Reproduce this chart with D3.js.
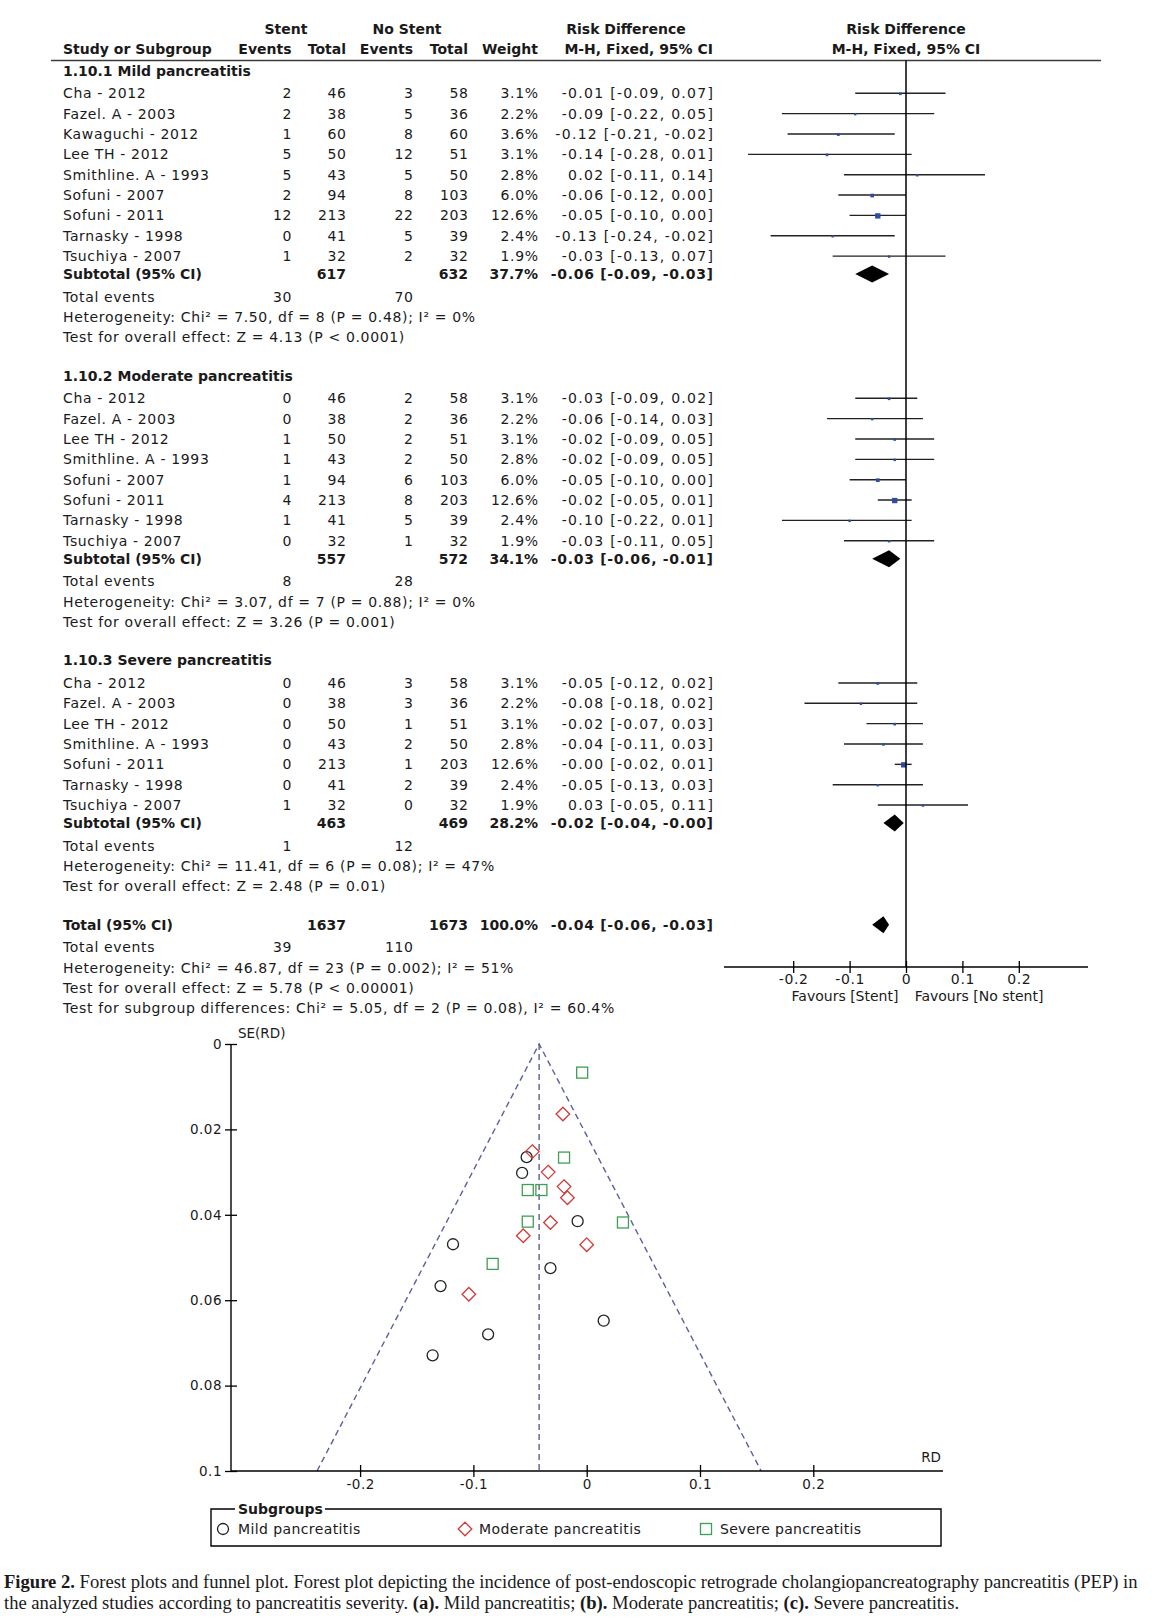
<!DOCTYPE html>
<html><head><meta charset="utf-8">
<script src="https://cdn.jsdelivr.net/npm/d3@7"></script>
<style>
body{margin:0;background:#fff}
svg{display:block}
text{font-family:"DejaVu Sans",sans-serif;fill:#1a1a1a}
</style>
</head><body>
<svg id="c" width="1157" height="1622"></svg>
<script>
// ---------------- DATA ----------------
const groupTitles = ["1.10.1 Mild pancreatitis", "1.10.2 Moderate pancreatitis", "1.10.3 Severe pancreatitis"];

const mildNames = ["Cha - 2012","Fazel. A - 2003","Kawaguchi - 2012","Lee TH - 2012","Smithline. A - 1993","Sofuni - 2007","Sofuni - 2011","Tarnasky - 1998","Tsuchiya - 2007"];
const mildStentEvents = [2,2,1,5,5,2,12,0,1];
const mildStentTotal  = [46,38,60,50,43,94,213,41,32];
const mildNoEvents    = [3,5,8,12,5,8,22,5,2];
const mildNoTotal     = [58,36,60,51,50,103,203,39,32];
const mildWeight      = [3.1,2.2,3.6,3.1,2.8,6.0,12.6,2.4,1.9];
const mildRD          = [-0.01,-0.09,-0.12,-0.14,0.02,-0.06,-0.05,-0.13,-0.03];
const mildLo          = [-0.09,-0.22,-0.21,-0.28,-0.11,-0.12,-0.10,-0.24,-0.13];
const mildHi          = [0.07,0.05,-0.02,0.01,0.14,0.00,0.00,-0.02,0.07];

const modNames = ["Cha - 2012","Fazel. A - 2003","Lee TH - 2012","Smithline. A - 1993","Sofuni - 2007","Sofuni - 2011","Tarnasky - 1998","Tsuchiya - 2007"];
const modStentEvents = [0,0,1,1,1,4,1,0];
const modStentTotal  = [46,38,50,43,94,213,41,32];
const modNoEvents    = [2,2,2,2,6,8,5,1];
const modNoTotal     = [58,36,51,50,103,203,39,32];
const modWeight      = [3.1,2.2,3.1,2.8,6.0,12.6,2.4,1.9];
const modRD          = [-0.03,-0.06,-0.02,-0.02,-0.05,-0.02,-0.10,-0.03];
const modLo          = [-0.09,-0.14,-0.09,-0.09,-0.10,-0.05,-0.22,-0.11];
const modHi          = [0.02,0.03,0.05,0.05,0.00,0.01,0.01,0.05];

const sevNames = ["Cha - 2012","Fazel. A - 2003","Lee TH - 2012","Smithline. A - 1993","Sofuni - 2011","Tarnasky - 1998","Tsuchiya - 2007"];
const sevStentEvents = [0,0,0,0,0,0,1];
const sevStentTotal  = [46,38,50,43,213,41,32];
const sevNoEvents    = [3,3,1,2,1,2,0];
const sevNoTotal     = [58,36,51,50,203,39,32];
const sevWeight      = [3.1,2.2,3.1,2.8,12.6,2.4,1.9];
const sevRD          = [-0.05,-0.08,-0.02,-0.04,-0.004,-0.05,0.03];
const sevLo          = [-0.12,-0.18,-0.07,-0.11,-0.02,-0.13,-0.05];
const sevHi          = [0.02,0.02,0.03,0.03,0.01,0.03,0.11];

const subStentTotal  = [617,557,463];
const subNoTotal     = [632,572,469];
const subWeight      = [37.7,34.1,28.2];
const subRD          = [-0.06,-0.03,-0.02];
const subLo          = [-0.09,-0.06,-0.04];
const subHi          = [-0.03,-0.01,-0.004];
const subStentEvents = [30,8,1];
const subNoEvents    = [70,28,12];
const subHet  = ["Heterogeneity: Chi² = 7.50, df = 8 (P = 0.48); I² = 0%",
                 "Heterogeneity: Chi² = 3.07, df = 7 (P = 0.88); I² = 0%",
                 "Heterogeneity: Chi² = 11.41, df = 6 (P = 0.08); I² = 47%"];
const subTest = ["Test for overall effect: Z = 4.13 (P < 0.0001)",
                 "Test for overall effect: Z = 3.26 (P = 0.001)",
                 "Test for overall effect: Z = 2.48 (P = 0.01)"];

const totStentTotal = 1637, totNoTotal = 1673, totWeight = 100.0;
const totRD = -0.04, totLo = -0.06, totHi = -0.03;
const totStentEvents = 39, totNoEvents = 110;
const totLines = ["Heterogeneity: Chi² = 46.87, df = 23 (P = 0.002); I² = 51%",
                  "Test for overall effect: Z = 5.78 (P < 0.00001)",
                  "Test for subgroup differences: Chi² = 5.05, df = 2 (P = 0.08), I² = 60.4%"];

const forestTicks = [-0.2,-0.1,0,0.1,0.2];
const forestTickLabels = ["-0.2","-0.1","0","0.1","0.2"];
const favourLabels = ["Favours [Stent]","Favours [No stent]"];

// funnel plot points (RD, SE)
const funMildRD = [-0.053,-0.057,-0.008,-0.118,-0.032,-0.129,-0.087,-0.136,0.015];
const funMildSE = [0.0265,0.0302,0.0415,0.0469,0.0525,0.0567,0.068,0.0729,0.0648];
const funModRD  = [-0.021,-0.048,-0.034,-0.020,-0.017,-0.032,-0.056,0.000,-0.104];
const funModSE  = [0.0164,0.0252,0.0300,0.0334,0.0360,0.0418,0.0449,0.0470,0.0586];
const funSevRD  = [-0.004,-0.020,-0.052,-0.040,-0.052,0.032,-0.083];
const funSevSE  = [0.0067,0.0266,0.0342,0.0342,0.0416,0.0418,0.0515];
const pooledRD = -0.042;
const funXTicks = [-0.2,-0.1,0,0.1,0.2];
const funXTickLabels = ["-0.2","-0.1","0","0.1","0.2"];
const funYTicks = [0,0.02,0.04,0.06,0.08,0.1];
const funYTickLabels = ["0","0.02","0.04","0.06","0.08","0.1"];
const legendLabels = ["Mild pancreatitis","Moderate pancreatitis","Severe pancreatitis"];

// ---------------- DRAW ----------------
const svg = d3.select("#c");
svg.append("rect").attr("width",1157).attr("height",1622).attr("fill","#fff");

const fmt = v => (v < 0 ? "-" : "") + Math.abs(v).toFixed(2);
const ciStr = (r,l,h) => fmt(r) + " [" + fmt(l) + ", " + fmt(h) + "]";
const FS = 14;
const LS = 0.65, LS_CI = 1.3, LS_CIB = 0.7;

function txt(x, y, s, anchor, bold, size, ls){
  ls = ls || 0;
  const t = svg.append("text").attr("x", anchor==="end" ? x + ls : x).attr("y",y).attr("dy","0.35em")
    .attr("text-anchor",anchor||"start")
    .attr("font-size",size||FS)
    .attr("font-weight",bold?"bold":"normal")
    .text(s);
  if (ls) t.attr("letter-spacing", ls);
  return t;
}

const col = {name:63, se:291.5, st:346, ne:413, nt:468, w:538, ci:713};
const xF = d3.scaleLinear().domain([-0.2,0.2]).range([793.2,1018.8]);

// headers
txt(286, 29, "Stent", "middle", true);
txt(407, 29, "No Stent", "middle", true);
txt(626, 29, "Risk Difference", "middle", true);
txt(xF(0), 29, "Risk Difference", "middle", true);
txt(col.name, 49.5, "Study or Subgroup", "start", true);
txt(col.se, 49.5, "Events", "end", true);
txt(col.st, 49.5, "Total", "end", true);
txt(col.ne, 49.5, "Events", "end", true);
txt(col.nt, 49.5, "Total", "end", true);
txt(col.w, 49.5, "Weight", "end", true);
txt(col.ci, 49.5, "M-H, Fixed, 95% CI", "end", true);
txt(xF(0), 49.5, "M-H, Fixed, 95% CI", "middle", true);
svg.append("line").attr("x1",51).attr("x2",1101).attr("y1",60.5).attr("y2",60.5)
  .attr("stroke","#3a3a3a").attr("stroke-width",1.6);

const sections = [
  {names:mildNames, se:mildStentEvents, st:mildStentTotal, ne:mildNoEvents, nt:mildNoTotal, w:mildWeight, rd:mildRD, lo:mildLo, hi:mildHi},
  {names:modNames, se:modStentEvents, st:modStentTotal, ne:modNoEvents, nt:modNoTotal, w:modWeight, rd:modRD, lo:modLo, hi:modHi},
  {names:sevNames, se:sevStentEvents, st:sevStentTotal, ne:sevNoEvents, nt:sevNoTotal, w:sevWeight, rd:sevRD, lo:sevLo, hi:sevHi}
];

const gMarks = svg.append("g");
function diamond(rd, lo, hi, y){
  gMarks.append("polygon")
    .attr("points", [[xF(lo),y],[xF(rd),y-8.5],[xF(hi),y],[xF(rd),y+8.5]].map(p=>p.join(",")).join(" "))
    .attr("fill","#000");
}

let y = 70.7;
sections.forEach((s, i) => {
  txt(col.name, y, groupTitles[i], "start", true);
  y += 22.6;
  s.names.forEach((n, j) => {
    txt(col.name, y, n, "start", false, FS, LS);
    txt(col.se, y, s.se[j], "end", false, FS, LS);
    txt(col.st, y, s.st[j], "end", false, FS, LS);
    txt(col.ne, y, s.ne[j], "end", false, FS, LS);
    txt(col.nt, y, s.nt[j], "end", false, FS, LS);
    txt(col.w, y, s.w[j].toFixed(1) + "%", "end", false, FS, LS);
    txt(col.ci, y, ciStr(s.rd[j], s.lo[j], s.hi[j]), "end", false, FS, LS_CI);
    gMarks.append("line").attr("x1",xF(s.lo[j])).attr("x2",xF(s.hi[j]))
      .attr("y1",y).attr("y2",y).attr("stroke","#222").attr("stroke-width",1.4);
    const side = Math.max(2.4, 1.5*Math.sqrt(s.w[j]));
    gMarks.append("rect").attr("x",xF(s.rd[j])-side/2).attr("y",y-side/2+0.5)
      .attr("width",side).attr("height",side).attr("fill","#2f4ba3");
    y += 20.35;
  });
  y -= 20.35;
  y += 17.9;
  txt(col.name, y, "Subtotal (95% CI)", "start", true);
  txt(col.st, y, subStentTotal[i], "end", true);
  txt(col.nt, y, subNoTotal[i], "end", true);
  txt(col.w, y, subWeight[i].toFixed(1) + "%", "end", true);
  txt(col.ci, y, ciStr(subRD[i], subLo[i], subHi[i]), "end", true, FS, LS_CIB);
  diamond(subRD[i], subLo[i], subHi[i], y);
  y += 22.7;
  txt(col.name, y, "Total events", "start", false, FS, LS);
  txt(col.se, y, subStentEvents[i], "end", false, FS, LS);
  txt(col.ne, y, subNoEvents[i], "end", false, FS, LS);
  y += 20.3;
  txt(col.name, y, subHet[i], "start", false, FS, LS);
  y += 20.3;
  txt(col.name, y, subTest[i], "start", false, FS, LS);
  y += 38.4;
});

txt(col.name, y, "Total (95% CI)", "start", true);
txt(col.st, y, totStentTotal, "end", true);
txt(col.nt, y, totNoTotal, "end", true);
txt(col.w, y, totWeight.toFixed(1) + "%", "end", true);
txt(col.ci, y, ciStr(totRD, totLo, totHi), "end", true, FS, LS_CIB);
diamond(totRD, totLo, totHi, y);
y += 22.7;
txt(col.name, y, "Total events", "start", false, FS, LS);
txt(col.se, y, totStentEvents, "end", false, FS, LS);
txt(col.ne, y, totNoEvents, "end", false, FS, LS);
totLines.forEach(l => { y += 20.3; txt(col.name, y, l, "start", false, FS, LS); });

// zero line & forest axis
const axY = 967;
svg.append("line").attr("x1",xF(0)).attr("x2",xF(0)).attr("y1",60.5).attr("y2",axY)
  .attr("stroke","#000").attr("stroke-width",1.5);
svg.append("line").attr("x1",724).attr("x2",1088).attr("y1",axY).attr("y2",axY)
  .attr("stroke","#000").attr("stroke-width",1.4);
const fAxis = svg.append("g").attr("transform",`translate(0,${axY})`)
  .call(d3.axisBottom(xF).tickValues(forestTicks).tickFormat((d,i)=>forestTickLabels[i]).tickSize(0).tickPadding(0));
fAxis.select(".domain").remove();
fAxis.selectAll(".tick line").attr("y1",-6).attr("y2",6).attr("stroke","#000").attr("stroke-width",1.3);
fAxis.selectAll(".tick text").attr("y",12).attr("dy","0.35em").attr("font-size",FS)
  .attr("font-family","DejaVu Sans").attr("fill","#1a1a1a").attr("letter-spacing",0.6);
txt(845, 996, favourLabels[0], "middle");
txt(979, 996, favourLabels[1], "middle");

// ---------------- FUNNEL ----------------
const xP = d3.scaleLinear().domain([-0.2,0.2]).range([360.1,813.3]);
const yP = d3.scaleLinear().domain([0,0.1]).range([1044,1471]);
const fg = svg.append("g");
const funColor = "#5b5fa3";
fg.append("path")
  .attr("d", d3.line()([[xP(pooledRD-1.96*0.1),yP(0.1)],[xP(pooledRD),yP(0)],[xP(pooledRD+1.96*0.1),yP(0.1)]]))
  .attr("fill","none").attr("stroke",funColor).attr("stroke-width",1.4).attr("stroke-dasharray","6,4");
fg.append("line").attr("x1",xP(pooledRD)).attr("x2",xP(pooledRD)).attr("y1",yP(0)).attr("y2",yP(0.1))
  .attr("stroke","#4f5680").attr("stroke-width",1.3).attr("stroke-dasharray","6,4");

const yAx = fg.append("g").attr("transform","translate(231,0)")
  .call(d3.axisLeft(yP).tickValues(funYTicks).tickFormat((d,i)=>funYTickLabels[i]).tickSize(0).tickPadding(0));
yAx.select(".domain").remove();
yAx.selectAll(".tick line").attr("x1",-6).attr("x2",6).attr("stroke","#000").attr("stroke-width",1.3);
yAx.selectAll(".tick text").attr("x",-9).attr("font-size",13.5).attr("font-family","DejaVu Sans").attr("fill","#1a1a1a").attr("letter-spacing",0.5);
fg.append("line").attr("x1",231).attr("x2",231).attr("y1",yP(0)).attr("y2",yP(0.1)).attr("stroke","#000").attr("stroke-width",1.4);

const xAx = fg.append("g").attr("transform",`translate(0,${yP(0.1)})`)
  .call(d3.axisBottom(xP).tickValues(funXTicks).tickFormat((d,i)=>funXTickLabels[i]).tickSize(0).tickPadding(0));
xAx.select(".domain").remove();
xAx.selectAll(".tick line").attr("y1",-6).attr("y2",6).attr("stroke","#000").attr("stroke-width",1.3);
xAx.selectAll(".tick text").attr("y",13).attr("dy","0.35em").attr("font-size",13.5).attr("font-family","DejaVu Sans").attr("fill","#1a1a1a").attr("letter-spacing",0.5);
fg.append("line").attr("x1",231).attr("x2",943).attr("y1",yP(0.1)).attr("y2",yP(0.1)).attr("stroke","#000").attr("stroke-width",1.4);

txt(238, 1033, "SE(RD)", "start", false, 13.5);
txt(941, 1457, "RD", "end", false, 13.5);

const cMild = "#222", cMod = "#d23a3a", cSev = "#3f9f55";
function circleAt(g,x,y){ g.append("circle").attr("cx",x).attr("cy",y).attr("r",5.5).attr("fill","none").attr("stroke",cMild).attr("stroke-width",1.3); }
function diamondAt(g,x,y){ const r=6.8; g.append("polygon").attr("points",`${x},${y-r} ${x+r},${y} ${x},${y+r} ${x-r},${y}`).attr("fill","none").attr("stroke",cMod).attr("stroke-width",1.3); }
function squareAt(g,x,y){ const h=5.5; g.append("rect").attr("x",x-h).attr("y",y-h).attr("width",2*h).attr("height",2*h).attr("fill","none").attr("stroke",cSev).attr("stroke-width",1.3); }
funMildRD.forEach((r,i)=>circleAt(fg,xP(r),yP(funMildSE[i])));
funModRD.forEach((r,i)=>diamondAt(fg,xP(r),yP(funModSE[i])));
funSevRD.forEach((r,i)=>squareAt(fg,xP(r),yP(funSevSE[i])));

// legend
const lg = svg.append("g");
lg.append("path").attr("d","M235,1509 H211 V1546 H941 V1509 H325")
  .attr("fill","none").attr("stroke","#000").attr("stroke-width",1.4);
txt(238, 1509, "Subgroups", "start", true, 14);
circleAt(lg, 223, 1529);
txt(238, 1529, legendLabels[0], "start", false, 14, 0.4);
diamondAt(lg, 465, 1529);
txt(479, 1529, legendLabels[1], "start", false, 14, 0.4);
squareAt(lg, 706, 1529);
txt(720, 1529, legendLabels[2], "start", false, 14, 0.3);

// caption
const cap = svg.append("g");
const l1 = cap.append("text").attr("x",4).attr("y",1588).attr("font-size",18.6).style("font-family","Liberation Serif");
l1.append("tspan").attr("font-weight","bold").text("Figure 2.");
l1.append("tspan").text(" Forest plots and funnel plot. Forest plot depicting the incidence of post-endoscopic retrograde cholangiopancreatography pancreatitis (PEP) in");
const l2 = cap.append("text").attr("x",4).attr("y",1609).attr("font-size",18.6).style("font-family","Liberation Serif");
l2.append("tspan").text("the analyzed studies according to pancreatitis severity. ");
l2.append("tspan").attr("font-weight","bold").text("(a).");
l2.append("tspan").text(" Mild pancreatitis;  ");
l2.append("tspan").attr("font-weight","bold").text("(b).");
l2.append("tspan").text(" Moderate pancreatitis; ");
l2.append("tspan").attr("font-weight","bold").text("(c).");
l2.append("tspan").text(" Severe pancreatitis.");
</script>
</body></html>
